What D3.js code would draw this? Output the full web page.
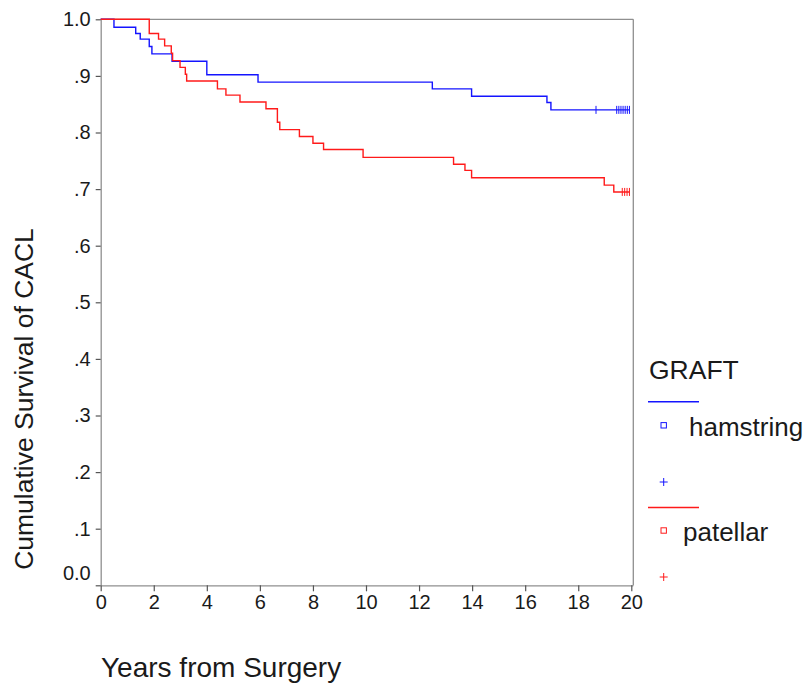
<!DOCTYPE html>
<html>
<head>
<meta charset="utf-8">
<script src="https://cdn.jsdelivr.net/npm/d3@7"></script>
<style>
  html, body { margin: 0; padding: 0; background: #fff; }
  svg { display: block; font-family: Arial, "Liberation Sans", sans-serif; }
</style>
</head>
<body>
<svg id="chart" width="808" height="688"></svg>
<script>
// Kaplan-Meier survival of the CACL by graft type
const groups = ["hamstring", "patellar"];
const groupColors = ["#1414ff", "#ff1a1a"];

// hamstring: event times (years) and survival after each event
const hamstringTimes = [0, 0.5, 1.32, 1.49, 1.83, 1.93, 2.69, 4.0, 5.93, 12.5, 13.98, 16.82, 16.97];
const hamstringSurvival = [1.0, 0.986, 0.975, 0.965, 0.952, 0.939, 0.926, 0.902, 0.889, 0.877, 0.864, 0.853, 0.840];
const hamstringCensored = [18.67, 19.45, 19.53, 19.61, 19.69, 19.77, 19.85, 19.93];
const hamstringEnd = 19.93;

// patellar: event times (years) and survival after each event
const patellarTimes = [0, 1.83, 2.18, 2.41, 2.66, 2.71, 2.99, 3.19, 3.24, 4.4, 4.72, 5.25, 6.23, 6.66, 6.75, 7.49, 8.0, 8.4, 9.89, 13.3, 13.73, 13.98, 18.98, 19.34];
const patellarSurvival = [1.0, 0.975, 0.965, 0.953, 0.940, 0.927, 0.915, 0.903, 0.891, 0.877, 0.866, 0.854, 0.842, 0.818, 0.805, 0.793, 0.781, 0.770, 0.756, 0.744, 0.733, 0.720, 0.707, 0.695];
const patellarCensored = [19.66, 19.75, 19.84, 19.93];
const patellarEnd = 19.93;

const xTicks = [0, 2, 4, 6, 8, 10, 12, 14, 16, 18, 20];
const yTicks = [0, 0.1, 0.2, 0.3, 0.4, 0.5, 0.6, 0.7, 0.8, 0.9, 1.0];
const yTickLabels = ["0.0", ".1", ".2", ".3", ".4", ".5", ".6", ".7", ".8", ".9", "1.0"];

const svg = d3.select("#chart");
const x = d3.scaleLinear().domain([0, 20]).range([100.7, 631.3]);
const y = d3.scaleLinear().domain([0, 1]).range([585.3, 19.3]);

const frameColor = "#8f8f8f";
const textColor = "#1a1a1a";

// plot frame (top and right sides)
svg.append("line").attr("x1", 100.5).attr("x2", 633.3).attr("y1", 19.3).attr("y2", 19.3)
  .attr("stroke", frameColor).attr("stroke-width", 1.3);
svg.append("line").attr("x1", 633.3).attr("x2", 633.3).attr("y1", 19.3).attr("y2", 585.5)
  .attr("stroke", frameColor).attr("stroke-width", 1.3);

// axes
const xAxis = d3.axisBottom(x).tickValues(xTicks).tickFormat(d3.format("d")).tickSize(6).tickSizeOuter(0).tickPadding(4);
const yAxis = d3.axisLeft(y).tickValues(yTicks).tickFormat((d, i) => yTickLabels[i]).tickSize(5).tickSizeOuter(0).tickPadding(5);

const gx = svg.append("g").attr("transform", `translate(0,${y(0)})`).call(xAxis);
const gy = svg.append("g").attr("transform", `translate(${x(0)},0)`).call(yAxis);

[gx, gy].forEach(g => {
  g.select(".domain").attr("stroke", frameColor).attr("stroke-width", 1.3);
  g.selectAll(".tick line").attr("stroke", "#555").attr("stroke-width", 1.2);
  g.selectAll(".tick text").attr("fill", textColor).attr("font-size", 20)
    .attr("font-family", "Arial, 'Liberation Sans', sans-serif");
});
gx.select(".domain").attr("d", `M${x(0)},0.5H633.3`);
gy.select(".domain").attr("d", `M0.5,${y(0)}V19.3`);
// the zero label sits above the corner so it clears the x tick labels
gy.selectAll(".tick text").filter(d => d === 0).attr("dy", "-0.28em");

// axis titles
svg.append("text").attr("x", 101).attr("y", 677)
  .attr("font-size", 28).attr("fill", textColor).text("Years from Surgery");
svg.append("text")
  .attr("transform", `translate(33,${399}) rotate(-90)`)
  .attr("text-anchor", "middle")
  .attr("font-size", 26.5).attr("fill", textColor).text("Cumulative Survival of CACL");

// survival step curves
const series = [
  { times: hamstringTimes, surv: hamstringSurvival, cens: hamstringCensored, end: hamstringEnd },
  { times: patellarTimes, surv: patellarSurvival, cens: patellarCensored, end: patellarEnd }
];

function stepPoints(s) {
  const pts = s.times.map((t, i) => [t, s.surv[i]]);
  pts.push([s.end, s.surv[s.surv.length - 1]]);
  return pts;
}

function survivalAt(s, t) {
  let v = s.surv[0];
  s.times.forEach((tt, i) => { if (tt <= t) v = s.surv[i]; });
  return v;
}

const line = d3.line().x(d => x(d[0])).y(d => y(d[1])).curve(d3.curveStepAfter);

series.forEach((s, gi) => {
  const g = svg.append("g");
  g.append("path").attr("d", line(stepPoints(s)))
    .attr("fill", "none").attr("stroke", groupColors[gi]).attr("stroke-width", 1.4);
  g.selectAll("line.cens").data(s.cens).join("line")
    .attr("x1", d => x(d)).attr("x2", d => x(d))
    .attr("y1", d => y(survivalAt(s, d)) - 4).attr("y2", d => y(survivalAt(s, d)) + 4)
    .attr("stroke", groupColors[gi]).attr("stroke-width", 1);
});

// legend
const legend = svg.append("g");
legend.append("text").attr("x", 649).attr("y", 379).attr("font-size", 26.5)
  .attr("fill", textColor).text("GRAFT");

const legendRows = [
  { lineY: 401.7, boxY: 425.3, textX: 689, textY: 436, plusY: 482 },
  { lineY: 507.5, boxY: 530.5, textX: 683, textY: 541, plusY: 577 }
];

groups.forEach((name, i) => {
  const r = legendRows[i];
  legend.append("line").attr("x1", 648).attr("x2", 699).attr("y1", r.lineY).attr("y2", r.lineY)
    .attr("stroke", groupColors[i]).attr("stroke-width", 1.4);
  legend.append("rect").attr("x", 661).attr("y", r.boxY - 2.7).attr("width", 5.4).attr("height", 5.4)
    .attr("fill", "none").attr("stroke", groupColors[i]).attr("stroke-width", 1);
  legend.append("text").attr("x", r.textX).attr("y", r.textY).attr("font-size", 26)
    .attr("fill", textColor).text(name);
  legend.append("path")
    .attr("d", `M${663.7 - 4},${r.plusY}H${663.7 + 4}M663.7,${r.plusY - 4}V${r.plusY + 4}`)
    .attr("stroke", groupColors[i]).attr("stroke-width", 1);
});
</script>
</body>
</html>
